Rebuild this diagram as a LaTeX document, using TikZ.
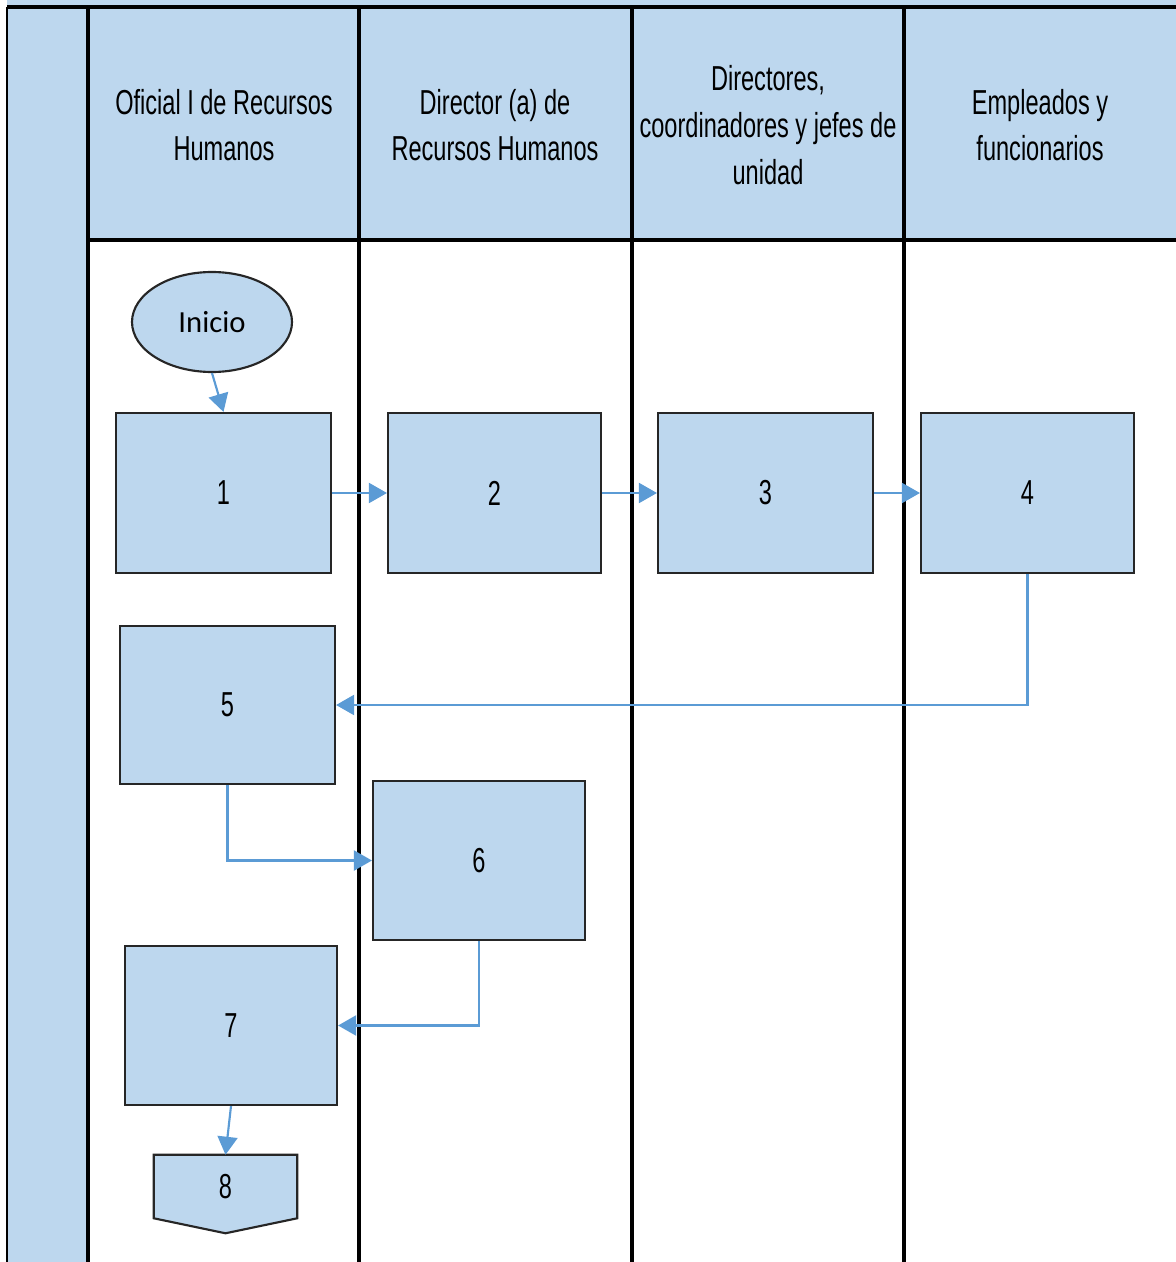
\documentclass[tikz,border=0pt]{standalone}
\usepackage{fontspec}
\newfontfamily\hdrfont[FakeStretch=0.68]{Liberation Sans}
\newfontfamily\inifont{Carlito}
\usetikzlibrary{shapes.geometric,arrows.meta,calc}
\definecolor{lblue}{HTML}{BDD7EE}
\definecolor{ablue}{HTML}{5B9BD5}
\begin{document}
\begin{tikzpicture}[x=0.75pt,y=-0.75pt,
  hdr/.style={align=center,font=\hdrfont\fontsize{26}{35}\selectfont,inner sep=0pt},
  procbox/.style={draw=black!85,line width=1.6pt,fill=lblue,inner sep=0pt,
     font=\hdrfont\fontsize{26}{31}\selectfont},
  lane/.style={line width=2.7pt,black},
  flow/.style={ablue,line width=1.6pt,-{Triangle[length=13.5pt,width=15pt]}}]
\useasboundingbox (0,0) rectangle (1176,1262);
% backgrounds
\fill[lblue] (7,0) rectangle (1176,240);
\fill[lblue] (7,0) rectangle (88,1262);
% frame lines
\draw[lane] (7,7) -- (1176,7);
\draw[line width=2.2pt] (7,7) -- (7,1262);
\draw[lane] (88,240) -- (1176,240);
\foreach \xx in {88,359,632,904} \draw[lane] (\xx,7) -- (\xx,1262);
% headers
\node[hdr] (h1) at (224,125) {Oficial I de Recursos\\Humanos};
\node[hdr] (h2) at (495,125) {Director (a) de\\Recursos Humanos};
\node[hdr] (h3) at (768,125) {Directores,\\coordinadores y jefes de\\unidad};
\node[hdr] (h4) at (1040,125) {Empleados y\\funcionarios};
% start
\node[ellipse,draw=black!85,line width=1.6pt,fill=lblue,inner sep=0pt,
  minimum width=160*0.75pt,minimum height=100*0.75pt,
  font=\inifont\fontsize{23}{28}\selectfont] (ini) at (212,322) {Inicio};
% process boxes
\node[procbox,minimum width=215*0.75pt,minimum height=160*0.75pt] (n1) at (223.5,493) {1};
\node[procbox,minimum width=213*0.75pt,minimum height=160*0.75pt] (n2) at (494.5,493) {2};
\node[procbox,minimum width=215*0.75pt,minimum height=160*0.75pt] (n3) at (765.5,493) {3};
\node[procbox,minimum width=213*0.75pt,minimum height=160*0.75pt] (n4) at (1027.5,493) {4};
\node[procbox,minimum width=215*0.75pt,minimum height=158*0.75pt] (n5) at (227.5,705) {5};
\node[procbox,minimum width=212*0.75pt,minimum height=159*0.75pt] (n6) at (479,860.5) {6};
\node[procbox,minimum width=212*0.75pt,minimum height=159*0.75pt] (n7) at (231,1025.5) {7};
% off-page connector
\node[inner sep=0pt,minimum width=143*0.75pt,minimum height=63*0.75pt,
  font=\hdrfont\fontsize{26}{31}\selectfont] (n8) at (225.5,1186.5) {8};
\draw[draw=black!85,line width=1.6pt,fill=lblue,line join=miter]
  (n8.north west) -- (n8.north east) -- (n8.south east) -- ($(n8.south)+(0,15)$)
  -- (n8.south west) -- cycle;
\node[inner sep=0pt,font=\hdrfont\fontsize{26}{31}\selectfont] at (n8.center) {8};
% connectors
\draw[flow] (ini.south) -- (n1.north);
\draw[flow] (n1.east) -- (n2.west);
\draw[flow] (n2.east) -- (n3.west);
\draw[flow] (n3.east) -- (n4.west);
\draw[flow] (n4.south) |- (n5.east);
\draw[flow] (n5.south) |- (n6.west);
\draw[flow] (n6.south) |- (n7.east);
\draw[flow] (n7.south) -- (n8.north);
\end{tikzpicture}
\end{document}
